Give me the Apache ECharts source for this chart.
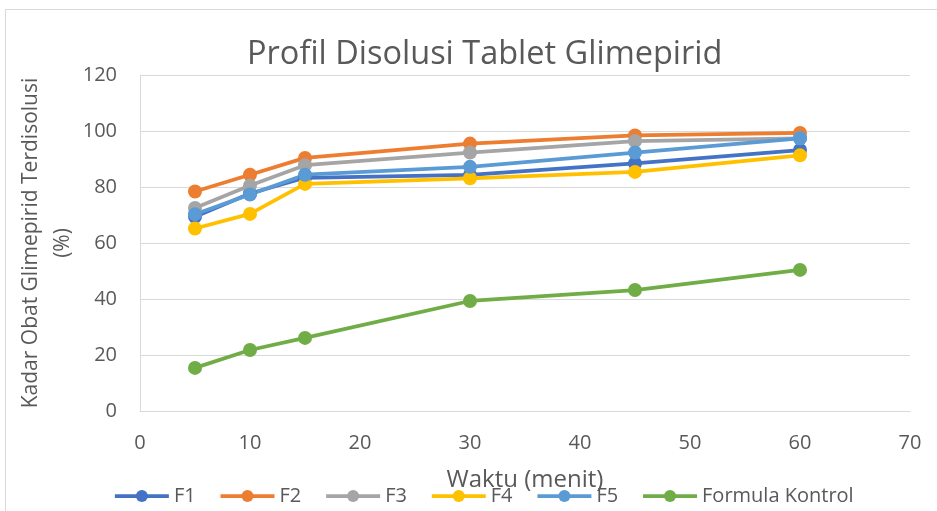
<!DOCTYPE html>
<html lang="id">
<head>
    <meta charset="UTF-8">
    <title>Profil Disolusi Tablet Glimepirid</title>
    <script src="https://cdn.jsdelivr.net/npm/echarts@6/dist/echarts.min.js"></script>
    <style>
        body { margin: 0; background: #fff; }
        #frame { position: absolute; left: 5px; top: 9px; width: 960px; height: 520px; border: 1px solid #d9d9d9; }
        #main { position: absolute; left: 0; top: 0; width: 937px; height: 511px; }
    </style>
</head>
<body>
<div id="frame"></div>
<div id="main"></div>
<script type="text/javascript">
    // waktu (menit)
    var waktu = [5, 10, 15, 30, 45, 60];
    // kadar terdisolusi (%)
    var f1 = [69.4, 77.7, 83.3, 84.3, 88.4, 93.2];
    var f2 = [78.4, 84.4, 90.4, 95.5, 98.4, 99.3];
    var f3 = [72.5, 80.5, 87.8, 92.3, 96.4, 97.4];
    var f4 = [65.2, 70.4, 81.1, 83.1, 85.4, 91.3];
    var f5 = [70.3, 77.3, 84.4, 87.2, 92.3, 97.4];
    var kontrol = [15.4, 21.8, 26.1, 39.3, 43.2, 50.4];

    var seriesNames = ['F1', 'F2', 'F3', 'F4', 'F5', 'Formula Kontrol'];
    var seriesData = [f1, f2, f3, f4, f5, kontrol];
    var colors = ['#4472C4', '#ED7D31', '#A5A5A5', '#FFC000', '#5B9BD5', '#70AD47'];

    var font = 'Open Sans';
    var textColor = '#595959';

    var myChart = echarts.init(document.getElementById('main'));

    var series = [];
    for (var i = 0; i < seriesNames.length; i++) {
        var pts = [];
        for (var j = 0; j < waktu.length; j++) {
            pts.push([waktu[j], seriesData[i][j]]);
        }
        series.push({
            name: seriesNames[i],
            type: 'line',
            data: pts,
            symbol: 'circle',
            symbolSize: 14,
            lineStyle: {width: 3.75, color: colors[i]},
            itemStyle: {color: colors[i]}
        });
    }

    var option = {
        animation: false,
        color: colors,
        title: {
            text: 'Profil Disolusi Tablet Glimepirid',
            left: 242,
            top: 33,
            textStyle: {fontFamily: font, fontSize: 32.5, fontWeight: 'normal', color: textColor}
        },
        legend: {
            data: seriesNames,
            bottom: 0,
            left: 108,
            itemWidth: 54,
            itemHeight: 15,
            itemGap: 23,
            lineStyle: {width: 3.75},
            textStyle: {fontFamily: font, fontSize: 20, color: textColor}
        },
        grid: {left: 140, right: 27, top: 75, bottom: 100},
        xAxis: {
            type: 'value',
            min: 0,
            max: 70,
            interval: 10,
            name: 'Waktu (menit)',
            nameLocation: 'middle',
            nameGap: 57,
            nameMoveOverlap: false,
            nameTextStyle: {fontFamily: font, fontSize: 24, color: textColor},
            axisLine: {show: true, lineStyle: {color: '#d9d9d9', width: 1}},
            axisTick: {show: false},
            splitLine: {show: false},
            axisLabel: {fontFamily: font, fontSize: 20, color: textColor, margin: 22}
        },
        yAxis: {
            type: 'value',
            min: 0,
            max: 120,
            interval: 20,
            name: 'Kadar Obat Glimepirid Terdisolusi\n(%)',
            nameLocation: 'middle',
            nameRotate: 90,
            nameGap: 61,
            nameMoveOverlap: false,
            nameTextStyle: {fontFamily: font, fontSize: 21, color: textColor, lineHeight: 32, align: 'center'},
            axisLine: {show: true, lineStyle: {color: '#d9d9d9', width: 1}},
            axisTick: {show: false},
            splitLine: {show: true, lineStyle: {color: '#d9d9d9', width: 1}},
            axisLabel: {fontFamily: font, fontSize: 20, color: textColor, margin: 23}
        },
        series: series
    };
    myChart.setOption(option);
</script>
</body>
</html>
